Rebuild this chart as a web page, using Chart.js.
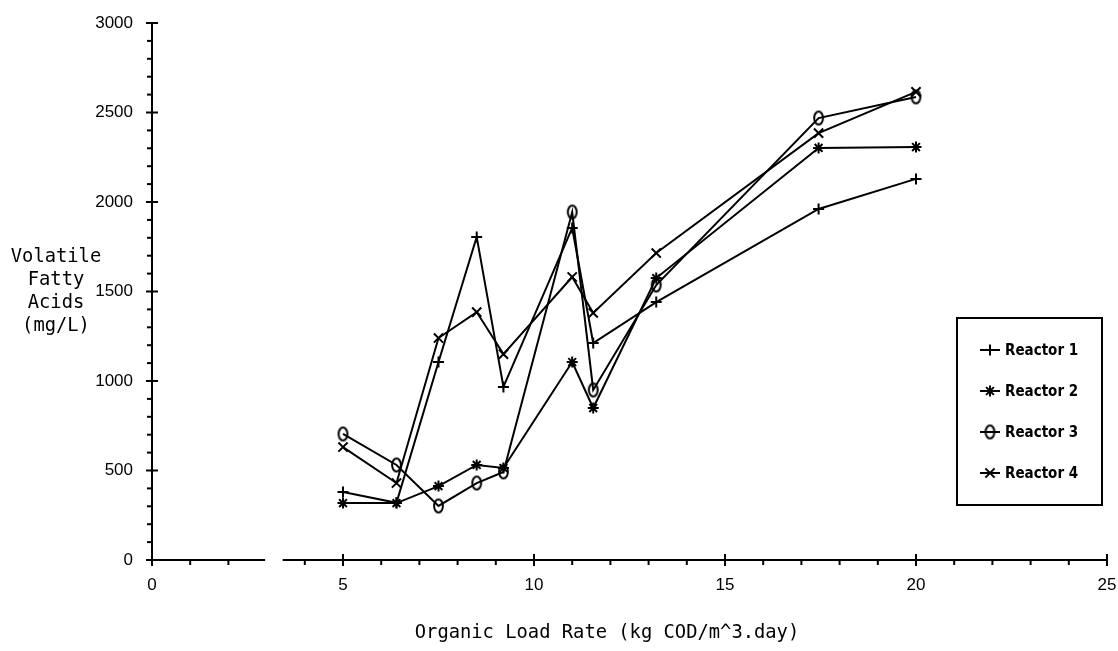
<!DOCTYPE html>
<html>
<head>
<meta charset="utf-8">
<script src="https://cdn.jsdelivr.net/npm/chart.js"></script>
<style>
  html, body { margin: 0; padding: 0; background: #ffffff; }
  #wrap { position: relative; width: 1118px; height: 651px; }
</style>
</head>
<body>
<div id="wrap"><canvas id="c" width="1118" height="651"></canvas></div>
<script>
// ---- Data ----
const loadRate = [5, 6.4, 7.5, 8.5, 9.2, 11.0, 11.55, 13.2, 17.45, 20];
const reactor1 = [380, 320, 1106, 1805, 967, 1855, 1212, 1441, 1961, 2129];
const reactor2 = [318, 318, 413, 531, 514, 1106, 849, 1575, 2302, 2307];
const reactor3 = [704, 531, 302, 430, 492, 1944, 950, 1536, 2469, 2587];
const reactor4 = [631, 430, 1240, 1385, 1150, 1581, 1380, 1715, 2385, 2615];
const seriesNames = ['Reactor 1', 'Reactor 2', 'Reactor 3', 'Reactor 4'];
const xTickLabels = [0, 5, 10, 15, 20, 25];
const yTickLabels = [0, 500, 1000, 1500, 2000, 2500, 3000];
const xTitle = 'Organic Load Rate (kg COD/m^3.day)';
const yTitleLines = ['Volatile', 'Fatty', 'Acids', '(mg/L)'];

// oval marker for Reactor 3
function makeOval() {
  const c = document.createElement('canvas');
  c.width = 13; c.height = 17;
  const g = c.getContext('2d');
  g.strokeStyle = '#000';
  g.lineWidth = 2;
  g.beginPath();
  g.ellipse(6.5, 8.5, 4.4, 6.6, 0, 0, Math.PI * 2);
  g.stroke();
  return c;
}
const ovalMarker = makeOval();

const styles = [
  { pointStyle: 'cross', radius: 5.5 },
  { pointStyle: 'star', radius: 5.5 },
  { pointStyle: ovalMarker, radius: 6 },
  { pointStyle: 'crossRot', radius: 6.5 }
];
const allSeries = [reactor1, reactor2, reactor3, reactor4];

const datasets = allSeries.map((vals, i) => ({
  label: seriesNames[i],
  data: vals.map((v, k) => ({ x: loadRate[k], y: v })),
  borderColor: '#000',
  backgroundColor: 'rgba(0,0,0,0)',
  borderWidth: 2,
  tension: 0,
  pointStyle: styles[i].pointStyle,
  pointRadius: styles[i].radius,
  pointHoverRadius: styles[i].radius,
  pointBorderColor: '#000',
  pointBorderWidth: 2,
  pointBackgroundColor: 'rgba(0,0,0,0)'
}));

// axes drawn in the plotter style (broken x axis, cross ticks)
const axesPlugin = {
  id: 'plotterAxes',
  beforeDatasetsDraw(chart) {
    const ctx = chart.ctx;
    const xs = chart.scales.x, ys = chart.scales.y;
    const x0 = xs.getPixelForValue(0);
    const y0 = ys.getPixelForValue(0);
    ctx.save();
    ctx.strokeStyle = '#000';
    ctx.lineWidth = 2;
    ctx.lineCap = 'butt';
    // y axis
    ctx.beginPath();
    ctx.moveTo(x0, ys.getPixelForValue(3000));
    ctx.lineTo(x0, y0);
    ctx.stroke();
    for (let v = 0; v <= 3000; v += 100) {
      const py = ys.getPixelForValue(v);
      ctx.beginPath();
      if (v % 500 === 0) { ctx.moveTo(x0 - 6, py); ctx.lineTo(x0 + 6, py); }
      else { ctx.moveTo(x0 - 5, py); ctx.lineTo(x0, py); }
      ctx.stroke();
    }
    // x axis (broken between ~3 and ~3.4)
    ctx.beginPath();
    ctx.moveTo(x0, y0); ctx.lineTo(xs.getPixelForValue(2.96), y0);
    ctx.moveTo(xs.getPixelForValue(3.42), y0); ctx.lineTo(xs.getPixelForValue(25), y0);
    ctx.stroke();
    for (let v = 0; v <= 25; v += 1) {
      if (v === 3) continue;
      const px = xs.getPixelForValue(v);
      ctx.beginPath();
      if (v % 5 === 0) { ctx.moveTo(px, y0 - 6); ctx.lineTo(px, y0 + 6); }
      else { ctx.moveTo(px, y0); ctx.lineTo(px, y0 + 5); }
      ctx.stroke();
    }
    // titles
    ctx.fillStyle = '#000';
    ctx.font = '18.8px "DejaVu Sans Mono", monospace';
    ctx.textAlign = 'center';
    ctx.textBaseline = 'middle';
    ctx.fillText(xTitle, 607, 633);
    yTitleLines.forEach((t, i) => ctx.fillText(t, 56, 257 + i * 23));
    ctx.restore();
  },
  afterDraw(chart) {
    const ctx = chart.ctx;
    ctx.save();
    // legend box
    ctx.strokeStyle = '#000';
    ctx.lineWidth = 2;
    ctx.strokeRect(957, 318, 145, 187);
    ctx.font = 'bold 15px "Liberation Sans Narrow", "DejaVu Sans Condensed", "Liberation Sans", sans-serif';
    ctx.textAlign = 'left';
    ctx.textBaseline = 'middle';
    ctx.fillStyle = '#000';
    seriesNames.forEach((name, i) => {
      const cy = 350 + i * 41;
      ctx.lineWidth = 2;
      ctx.beginPath();
      ctx.moveTo(980, cy); ctx.lineTo(1000, cy);
      ctx.stroke();
      Chart.helpers.drawPoint(ctx, {
        pointStyle: styles[i].pointStyle,
        radius: styles[i].radius,
        rotation: 0,
        borderWidth: 2
      }, 990, cy);
      ctx.fillText(name, 1005, cy + 1);
    });
    ctx.restore();
  }
};

new Chart(document.getElementById('c'), {
  type: 'line',
  data: { datasets },
  plugins: [axesPlugin],
  options: {
    responsive: false,
    animation: false,
    layout: { padding: { left: 0, right: 11, top: 23, bottom: 0 } },
    plugins: { legend: { display: false }, tooltip: { enabled: false } },
    scales: {
      x: {
        type: 'linear',
        min: 0, max: 25,
        afterBuildTicks(scale) { scale.ticks = xTickLabels.map(v => ({ value: v })); },
        afterFit(scale) { scale.height = 91; scale.paddingLeft = 0; scale.paddingRight = 0; },
        grid: { display: false, drawTicks: false },
        border: { display: false },
        ticks: {
          padding: 15,
          color: '#000',
          maxRotation: 0,
          callback: v => String(v),
          font: { family: '"Liberation Sans", Arial, sans-serif', size: 17 }
        }
      },
      y: {
        type: 'linear',
        min: 0, max: 3000,
        afterBuildTicks(scale) { scale.ticks = yTickLabels.map(v => ({ value: v })); },
        afterFit(scale) { scale.width = 152; scale.paddingTop = 0; scale.paddingBottom = 0; },
        grid: { display: false, drawTicks: false },
        border: { display: false },
        ticks: {
          padding: 19,
          color: '#000',
          callback: v => String(v),
          font: { family: '"Liberation Sans", Arial, sans-serif', size: 17 }
        }
      }
    }
  }
});
</script>
</body>
</html>
